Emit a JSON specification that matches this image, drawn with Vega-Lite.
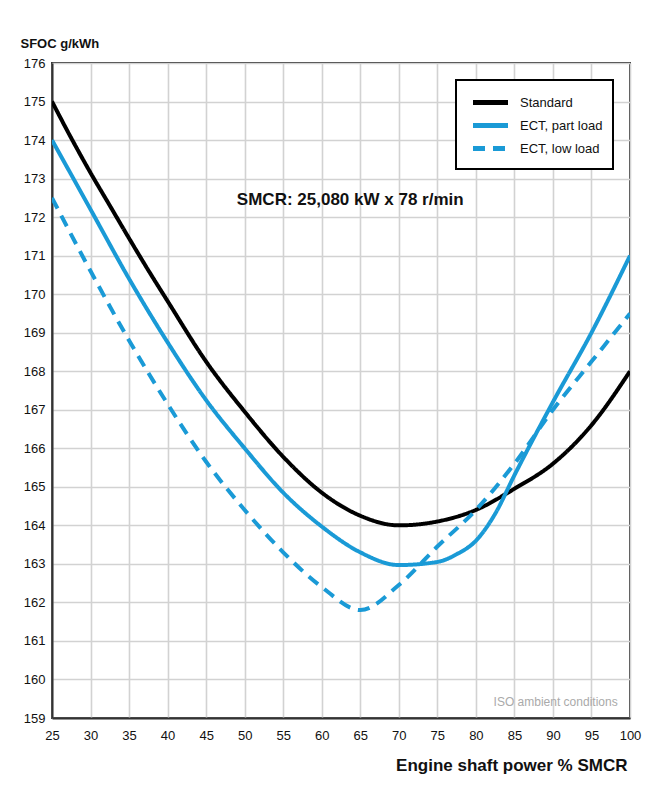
{
  "$schema": "https://vega.github.io/schema/vega-lite/v6.json",
  "width": 578,
  "height": 655,
  "autosize": {"type": "none"},
  "padding": {"left": 52, "top": 63, "right": 19, "bottom": 73},
  "background": "white",
  "config": {
    "font": "Liberation Sans, Arial, sans-serif",
    "view": {"stroke": "#333333", "strokeWidth": 2},
    "legend": {"strokeWidth": 2},
    "axis": {
      "gridColor": "#d2d2d2",
      "gridWidth": 1.6,
      "domainColor": "#333333",
      "domainWidth": 2,
      "ticks": false,
      "labelOverlap": false,
      "labelSeparation": 0,
      "labelFont": "Liberation Sans, Arial, sans-serif",
      "labelFontSize": 13,
      "labelColor": "#111111",
      "titleFont": "Liberation Sans, Arial, sans-serif",
      "titleColor": "#111111"
    }
  },
  "datasets": {
    "curves": [
      {"p": 25, "sfoc": 175.0, "series": "Standard"},
      {"p": 27.5, "sfoc": 174.05, "series": "Standard"},
      {"p": 30, "sfoc": 173.15, "series": "Standard"},
      {"p": 32.5, "sfoc": 172.3, "series": "Standard"},
      {"p": 35, "sfoc": 171.45, "series": "Standard"},
      {"p": 37.5, "sfoc": 170.62, "series": "Standard"},
      {"p": 40, "sfoc": 169.82, "series": "Standard"},
      {"p": 45, "sfoc": 168.25, "series": "Standard"},
      {"p": 50, "sfoc": 166.95, "series": "Standard"},
      {"p": 55, "sfoc": 165.78, "series": "Standard"},
      {"p": 60, "sfoc": 164.85, "series": "Standard"},
      {"p": 65, "sfoc": 164.25, "series": "Standard"},
      {"p": 70, "sfoc": 164.0, "series": "Standard"},
      {"p": 75, "sfoc": 164.1, "series": "Standard"},
      {"p": 80, "sfoc": 164.4, "series": "Standard"},
      {"p": 85, "sfoc": 164.95, "series": "Standard"},
      {"p": 90, "sfoc": 165.6, "series": "Standard"},
      {"p": 95, "sfoc": 166.6, "series": "Standard"},
      {"p": 100, "sfoc": 168.0, "series": "Standard"},

      {"p": 25, "sfoc": 174.0, "series": "ECT, part load"},
      {"p": 30, "sfoc": 172.2, "series": "ECT, part load"},
      {"p": 35, "sfoc": 170.4, "series": "ECT, part load"},
      {"p": 40, "sfoc": 168.75, "series": "ECT, part load"},
      {"p": 45, "sfoc": 167.25, "series": "ECT, part load"},
      {"p": 50, "sfoc": 166.0, "series": "ECT, part load"},
      {"p": 55, "sfoc": 164.85, "series": "ECT, part load"},
      {"p": 60, "sfoc": 163.97, "series": "ECT, part load"},
      {"p": 65, "sfoc": 163.3, "series": "ECT, part load"},
      {"p": 70, "sfoc": 162.97, "series": "ECT, part load"},
      {"p": 75, "sfoc": 163.05, "series": "ECT, part load"},
      {"p": 77.5, "sfoc": 163.25, "series": "ECT, part load"},
      {"p": 80, "sfoc": 163.6, "series": "ECT, part load"},
      {"p": 82.5, "sfoc": 164.3, "series": "ECT, part load"},
      {"p": 85, "sfoc": 165.3, "series": "ECT, part load"},
      {"p": 90, "sfoc": 167.2, "series": "ECT, part load"},
      {"p": 95, "sfoc": 169.0, "series": "ECT, part load"},
      {"p": 100, "sfoc": 171.0, "series": "ECT, part load"},

      {"p": 25, "sfoc": 172.5, "series": "ECT, low load"},
      {"p": 30, "sfoc": 170.6, "series": "ECT, low load"},
      {"p": 35, "sfoc": 168.8, "series": "ECT, low load"},
      {"p": 40, "sfoc": 167.15, "series": "ECT, low load"},
      {"p": 45, "sfoc": 165.65, "series": "ECT, low load"},
      {"p": 50, "sfoc": 164.4, "series": "ECT, low load"},
      {"p": 55, "sfoc": 163.3, "series": "ECT, low load"},
      {"p": 60, "sfoc": 162.4, "series": "ECT, low load"},
      {"p": 65, "sfoc": 161.8, "series": "ECT, low load"},
      {"p": 70, "sfoc": 162.45, "series": "ECT, low load"},
      {"p": 75, "sfoc": 163.45, "series": "ECT, low load"},
      {"p": 80, "sfoc": 164.4, "series": "ECT, low load"},
      {"p": 85, "sfoc": 165.6, "series": "ECT, low load"},
      {"p": 90, "sfoc": 167.0, "series": "ECT, low load"},
      {"p": 95, "sfoc": 168.25, "series": "ECT, low load"},
      {"p": 100, "sfoc": 169.5, "series": "ECT, low load"}
    ]
  },
  "layer": [
    {
      "data": {"name": "curves"},
      "mark": {"type": "line", "strokeWidth": 4, "interpolate": "monotone", "clip": true},
      "encoding": {
        "x": {
          "field": "p", "type": "quantitative",
          "scale": {"domain": [25, 100], "nice": false, "zero": false},
          "axis": {
            "values": [25, 30, 35, 40, 45, 50, 55, 60, 65, 70, 75, 80, 85, 90, 95, 100],
            "labelOverlap": false,
            "labelPadding": 11,
            "labelFlush": false,
            "title": "Engine shaft power % SMCR",
            "titleFontSize": 17,
            "titleFontWeight": "bold",
            "titleAlign": "right",
            "titleAnchor": "end",
            "titleX": 575,
            "titleY": 47,
            "titleBaseline": "middle"
          }
        },
        "y": {
          "field": "sfoc", "type": "quantitative",
          "scale": {"domain": [159, 176], "nice": false, "zero": false},
          "axis": {
            "values": [159, 160, 161, 162, 163, 164, 165, 166, 167, 168, 169, 170, 171, 172, 173, 174, 175, 176],
            "labelOverlap": false,
            "labelPadding": 7,
            "labelFlush": false,
            "title": "SFOC g/kWh",
            "titleAngle": 0,
            "titleFontSize": 13,
            "titleFontWeight": "bold",
            "titleAlign": "left",
            "titleX": -32,
            "titleY": -20,
            "titleBaseline": "middle"
          }
        },
        "color": {
          "field": "series", "type": "nominal",
          "scale": {"domain": ["Standard", "ECT, part load", "ECT, low load"], "range": ["#000000", "#1a9ad6", "#1a9ad6"]},
          "legend": {
            "title": null,
            "orient": "none",
            "legendX": 404,
            "legendY": 17,
            "padding": 10,
            "strokeColor": "#000000",
            "fillColor": "white",
            "symbolType": "M-1.75,0H1.75",
            "symbolSize": 400,
            "symbolOffset": 12,
            "symbolStrokeWidth": 5,
            "labelFontSize": 13,
            "labelColor": "#111111",
            "labelOffset": 17,
            "rowPadding": 0,
            "labelFont": "Liberation Sans, Arial, sans-serif"
          }
        },
        "strokeDash": {
          "field": "series", "type": "nominal",
          "scale": {"domain": ["Standard", "ECT, part load", "ECT, low load"], "range": [[1, 0], [1, 0], [12, 8]]},
          "legend": null
        }
      }
    },
    {
      "data": {"values": [{}]},
      "mark": {"type": "text", "fontSize": 17, "fontWeight": "bold", "color": "#111111", "align": "center", "baseline": "middle"},
      "encoding": {
        "x": {"datum": 63.7, "type": "quantitative",
          "axis": {
            "values": [25, 30, 35, 40, 45, 50, 55, 60, 65, 70, 75, 80, 85, 90, 95, 100],
            "labelOverlap": false,
            "labelPadding": 11,
            "labelFlush": false,
            "title": "Engine shaft power % SMCR",
            "titleFontSize": 17,
            "titleFontWeight": "bold",
            "titleAlign": "right",
            "titleAnchor": "end",
            "titleX": 575,
            "titleY": 47,
            "titleBaseline": "middle"
          }},
        "y": {"datum": 172.45, "type": "quantitative",
          "axis": {
            "values": [159, 160, 161, 162, 163, 164, 165, 166, 167, 168, 169, 170, 171, 172, 173, 174, 175, 176],
            "labelOverlap": false,
            "labelPadding": 7,
            "labelFlush": false,
            "title": "SFOC g/kWh",
            "titleAngle": 0,
            "titleFontSize": 13,
            "titleFontWeight": "bold",
            "titleAlign": "left",
            "titleX": -32,
            "titleY": -20,
            "titleBaseline": "middle"
          }},
        "text": {"value": "SMCR: 25,080 kW x 78 r/min"}
      }
    },
    {
      "data": {"values": [{}]},
      "mark": {"type": "text", "fontSize": 12, "color": "#aaaaaa", "align": "right", "baseline": "middle"},
      "encoding": {
        "x": {"datum": 98.4, "type": "quantitative",
          "axis": {
            "values": [25, 30, 35, 40, 45, 50, 55, 60, 65, 70, 75, 80, 85, 90, 95, 100],
            "labelOverlap": false,
            "labelPadding": 11,
            "labelFlush": false,
            "title": "Engine shaft power % SMCR",
            "titleFontSize": 17,
            "titleFontWeight": "bold",
            "titleAlign": "right",
            "titleAnchor": "end",
            "titleX": 575,
            "titleY": 47,
            "titleBaseline": "middle"
          }},
        "y": {"datum": 159.42, "type": "quantitative",
          "axis": {
            "values": [159, 160, 161, 162, 163, 164, 165, 166, 167, 168, 169, 170, 171, 172, 173, 174, 175, 176],
            "labelOverlap": false,
            "labelPadding": 7,
            "labelFlush": false,
            "title": "SFOC g/kWh",
            "titleAngle": 0,
            "titleFontSize": 13,
            "titleFontWeight": "bold",
            "titleAlign": "left",
            "titleX": -32,
            "titleY": -20,
            "titleBaseline": "middle"
          }},
        "text": {"value": "ISO ambient conditions"}
      }
    }
  ]
}
